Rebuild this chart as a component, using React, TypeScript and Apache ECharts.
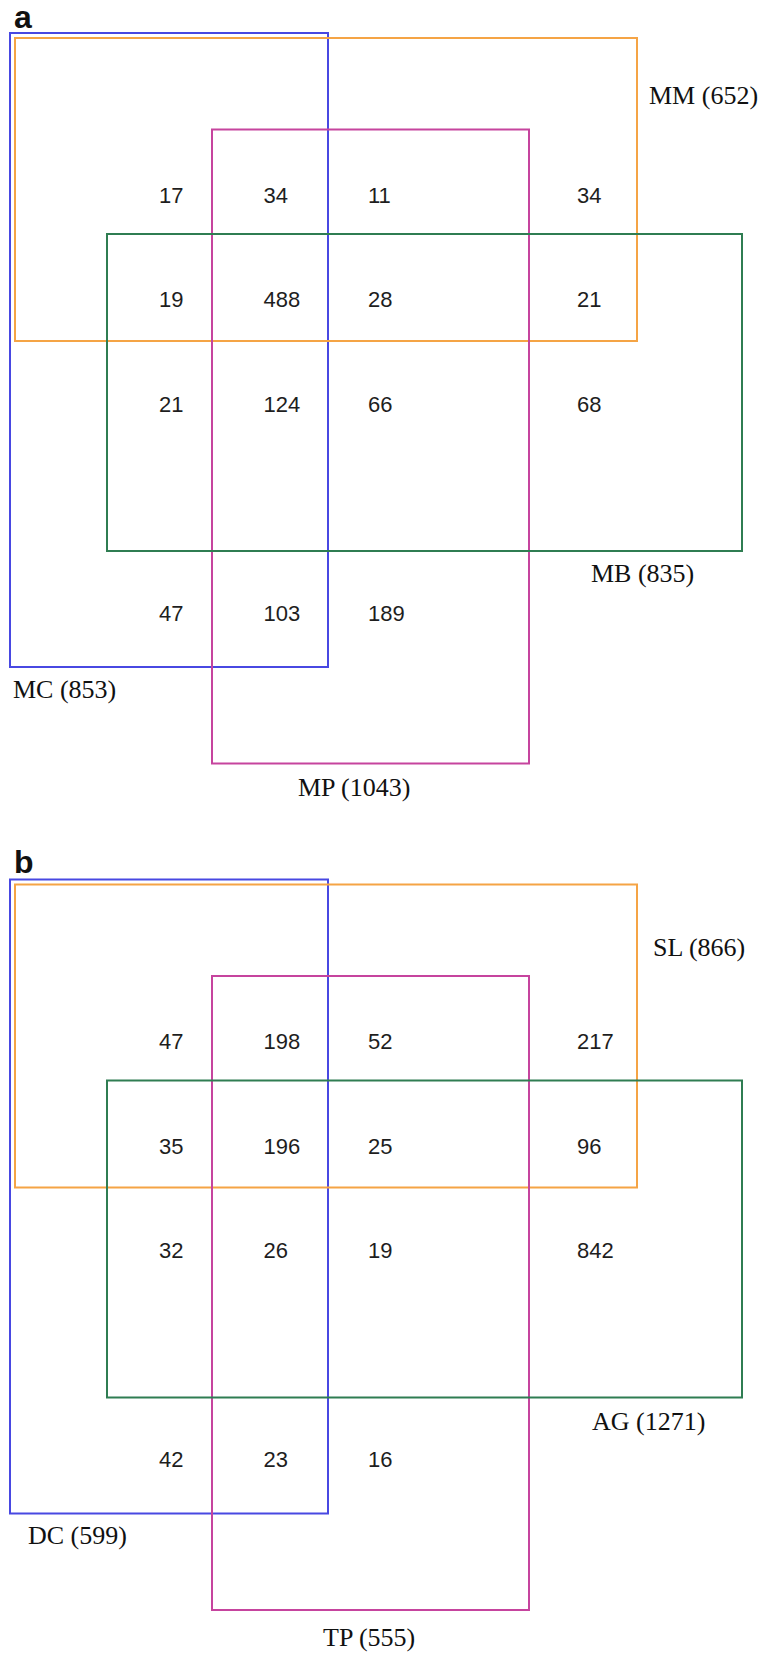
import React, { useEffect, useRef } from "react";
import * as echarts from "echarts";

// ---------------- data ----------------
const panelLetters = ["a", "b"];
const setNamesA = ["MC", "MM", "MP", "MB"];
const setSizesA = [853, 652, 1043, 835];
const setNamesB = ["DC", "SL", "TP", "AG"];
const setSizesB = [599, 866, 555, 1271];
// region counts: rows top→bottom, columns left→right (null = empty cell)
const countsA: (number | null)[][] = [
  [17, 34, 11, 34],
  [19, 488, 28, 21],
  [21, 124, 66, 68],
  [47, 103, 189, null],
];
const countsB: (number | null)[][] = [
  [47, 198, 52, 217],
  [35, 196, 25, 96],
  [32, 26, 19, 842],
  [42, 23, 16, null],
];

// ---------------- layout (not data) ----------------
const W = 764;
const H = 1655;
const PANEL_OFFSET = 846.5;
const PANEL_H = 808.5;
const CELL_X0 = 159;
const CELL_Y0 = 195;
const CELL_STEP = 104.5;
const CELL_COL_SLOTS = [0, 1, 2, 4];
const CELL_ROW_SLOTS = [0, 1, 2, 4];
const SET_COLORS = ["#4848e2", "#f5a445", "#c6449e", "#2f7d52"];
// [x0, y0, x1, y1] per set (blue, orange, magenta, green), panel units
const SET_RECTS = [
  [10, 33, 328, 667],
  [15, 38, 637, 341],
  [212, 129.5, 529, 763.5],
  [107, 234, 742, 551],
];
const SET_LABEL_POS = [
  [[13, 689], [649, 95], [298, 787], [591, 573]],
  [[28, 688.5], [653, 100.5], [323, 790.5], [592, 575]],
];
const LETTER_POS = [[14, 17], [14, 15]];

const NUM_FONT = "22px 'Liberation Sans', Arial, sans-serif";
const LABEL_FONT = "26px 'Liberation Serif', 'Times New Roman', serif";
const LETTER_FONT = "bold 32px 'Liberation Sans', Arial, sans-serif";

function buildPanel(p: number) {
  const names = p === 0 ? setNamesA : setNamesB;
  const sizes = p === 0 ? setSizesA : setSizesB;
  const counts = p === 0 ? countsA : countsB;
  const labels = names.map((n, i) => `${n} (${sizes[i]})`);

  const cellData: number[][] = [];
  counts.forEach((row, r) =>
    row.forEach((v, c) => {
      if (v !== null) {
        cellData.push([
          CELL_X0 + CELL_COL_SLOTS[c] * CELL_STEP,
          CELL_Y0 + CELL_ROW_SLOTS[r] * CELL_STEP,
          v,
        ]);
      }
    })
  );

  const common = {
    type: "custom",
    xAxisIndex: p,
    yAxisIndex: p,
    clip: false,
    silent: true,
  };

  return [
    {
      ...common,
      name: `sets-${p}`,
      data: SET_RECTS.map((r, i) => [...r, i]),
      renderItem: (_params: any, api: any) => {
        const a = api.coord([api.value(0), api.value(1)]);
        const b = api.coord([api.value(2), api.value(3)]);
        const ci = api.value(4);
        return {
          type: "rect",
          shape: { x: a[0], y: a[1], width: b[0] - a[0], height: b[1] - a[1] },
          style: { fill: "none", stroke: SET_COLORS[ci], lineWidth: 2 },
        };
      },
    },
    {
      ...common,
      name: `counts-${p}`,
      data: cellData,
      renderItem: (_params: any, api: any) => {
        const pt = api.coord([api.value(0), api.value(1)]);
        return {
          type: "text",
          x: pt[0],
          y: pt[1],
          style: {
            text: String(api.value(2)),
            font: NUM_FONT,
            fill: "#1e1e1e",
            textAlign: "left",
            textVerticalAlign: "middle",
          },
        };
      },
    },
    {
      ...common,
      name: `labels-${p}`,
      data: SET_LABEL_POS[p].map((pos, i) => [pos[0], pos[1], i]),
      renderItem: (params: any, api: any) => {
        const pt = api.coord([api.value(0), api.value(1)]);
        return {
          type: "text",
          x: pt[0],
          y: pt[1],
          style: {
            text: labels[params.dataIndex],
            font: LABEL_FONT,
            fill: "#111",
            textAlign: "left",
            textVerticalAlign: "middle",
          },
        };
      },
    },
    {
      ...common,
      name: `letter-${p}`,
      data: [[LETTER_POS[p][0], LETTER_POS[p][1]]],
      renderItem: (_params: any, api: any) => {
        const pt = api.coord([api.value(0), api.value(1)]);
        return {
          type: "text",
          x: pt[0],
          y: pt[1],
          style: {
            text: panelLetters[p],
            font: LETTER_FONT,
            fill: "#111",
            textAlign: "left",
            textVerticalAlign: "middle",
          },
        };
      },
    },
  ];
}

export default function App() {
  const ref = useRef<HTMLDivElement>(null);
  useEffect(() => {
    if (!ref.current) return;
    const chart = echarts.init(ref.current, undefined, { renderer: "svg" });
    const grids = [0, 1].map((p) => ({
      left: 0,
      top: p * PANEL_OFFSET,
      width: W,
      height: PANEL_H,
      containLabel: false,
    }));
    const xAxes = [0, 1].map((p) => ({
      type: "value",
      gridIndex: p,
      min: 0,
      max: W,
      show: false,
    }));
    const yAxes = [0, 1].map((p) => ({
      type: "value",
      gridIndex: p,
      min: 0,
      max: PANEL_H,
      inverse: true,
      show: false,
    }));
    chart.setOption({
      animation: false,
      backgroundColor: "#ffffff",
      grid: grids,
      xAxis: xAxes,
      yAxis: yAxes,
      series: [...buildPanel(0), ...buildPanel(1)],
    } as any);
    return () => chart.dispose();
  }, []);
  return (
    <div
      ref={ref}
      style={{ position: "absolute", left: 0, top: 0, width: W, height: H, background: "#fff" }}
    />
  );
}
